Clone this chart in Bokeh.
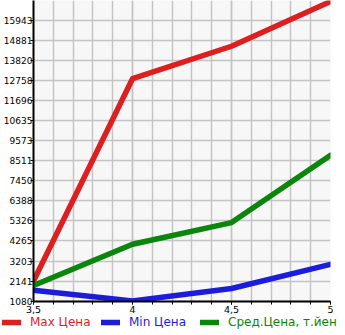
from bokeh.plotting import figure
from bokeh.models import Range1d, FixedTicker, Legend, LegendItem
from bokeh.layouts import column, row
from bokeh.embed import file_html
from bokeh.resources import INLINE

x_vals = [3.5, 4.0, 4.5, 5.0]
max_price = [2141, 12860, 14580, 16950]
min_price = [1660, 1090, 1750, 3030]
avg_price = [1910, 4090, 5240, 8810]

y_tick_labels = ["1080", "2141", "3203", "4265", "5326", "6388", "7450", "8511",
                 "9573", "10635", "11696", "12758", "13820", "14881", "15943"]
x_ticks = [3.5, 4.0, 4.5, 5.0]
x_tick_labels = ["3,5", "4", "4,5", "5"]
x_minor = [round(3.5 + 0.1 * i, 1) for i in range(16)]

series_names = ["Max Цена", "Min Цена", "Сред.Цена, т.йен"]
colors = ["#dd1f1f", "#1c1cdc", "#0a870a"]

FONT = "DejaVu Sans"
LW = 5.5

p = figure(width=345, height=316, output_backend="svg", toolbar_location=None,
           x_range=Range1d(3.5, 5.0), y_range=Range1d(1060, 17004),
           min_border_left=31, min_border_right=15, min_border_top=0,
           min_border_bottom=15)
p.border_fill_color = "#ffffff"
p.background_fill_color = "#f7f7f7"
p.outline_line_color = None

yt = [int(s) for s in y_tick_labels]
p.yaxis.ticker = FixedTicker(ticks=yt)
p.yaxis.major_label_overrides = {v: s for v, s in zip(yt, y_tick_labels)}
p.xaxis.ticker = FixedTicker(ticks=x_ticks, minor_ticks=x_minor)
p.xaxis.major_label_overrides = {v: s for v, s in zip(x_ticks, x_tick_labels)}

for ax in (p.xaxis[0], p.yaxis[0]):
    ax.axis_line_color = "black"
    ax.axis_line_width = 2
    ax.major_tick_line_color = "black"
    ax.minor_tick_line_color = "black"
    ax.major_label_text_font = FONT
    ax.major_label_text_color = "black"
    ax.major_tick_in = 0
    ax.minor_tick_in = 0

p.yaxis.major_label_text_font_size = "9px"
p.xaxis.major_label_text_font_size = "9.5px"
p.yaxis.major_tick_out = 3
p.yaxis.minor_tick_out = 0
p.yaxis.major_label_standoff = -2
p.xaxis.major_tick_out = 3
p.xaxis.minor_tick_out = 3
p.xaxis.major_label_standoff = 1

p.xgrid.grid_line_color = "#c4c4c4"
p.xgrid.minor_grid_line_color = "#c4c4c4"
p.ygrid.grid_line_color = "#c4c4c4"
p.xgrid.grid_line_width = 1.5
p.xgrid.minor_grid_line_width = 1.5
p.ygrid.grid_line_width = 1.5

for ys, c in zip([max_price, min_price, avg_price], colors):
    p.line(x_vals, ys, line_color=c, line_width=LW, line_cap="round",
           line_join="round")

# legend strip
lf = figure(width=345, height=19, output_backend="svg", toolbar_location=None,
            x_range=Range1d(0, 345), y_range=Range1d(0, 19),
            min_border=0, min_border_left=0, min_border_right=0,
            min_border_top=0, min_border_bottom=0,
            x_axis_location=None, y_axis_location=None)
lf.title.visible = False
lf.xgrid.visible = False
lf.ygrid.visible = False
lf.outline_line_color = None
lf.background_fill_color = "#ffffff"
lf.border_fill_color = "#ffffff"

legend_x = [2, 101, 200]
for name, c, lx in zip(series_names, colors, legend_x):
    r = lf.line([-100, -90], [-100, -100], line_color=c, line_width=LW,
                line_cap="round")
    lg = Legend(items=[LegendItem(label=name, renderers=[r])],
                location=(lx, 6), orientation="horizontal",
                label_text_color=c, label_text_font=FONT,
                label_text_font_size="12px", glyph_width=19, glyph_height=12,
                label_height=12, label_width=10, label_standoff=9, padding=0,
                margin=0, spacing=0, background_fill_alpha=0,
                border_line_color=None)
    lf.add_layout(lg, "center")

layout = column(p, row(lf), spacing=0)
open("out.html", "w").write(file_html(layout, INLINE))
